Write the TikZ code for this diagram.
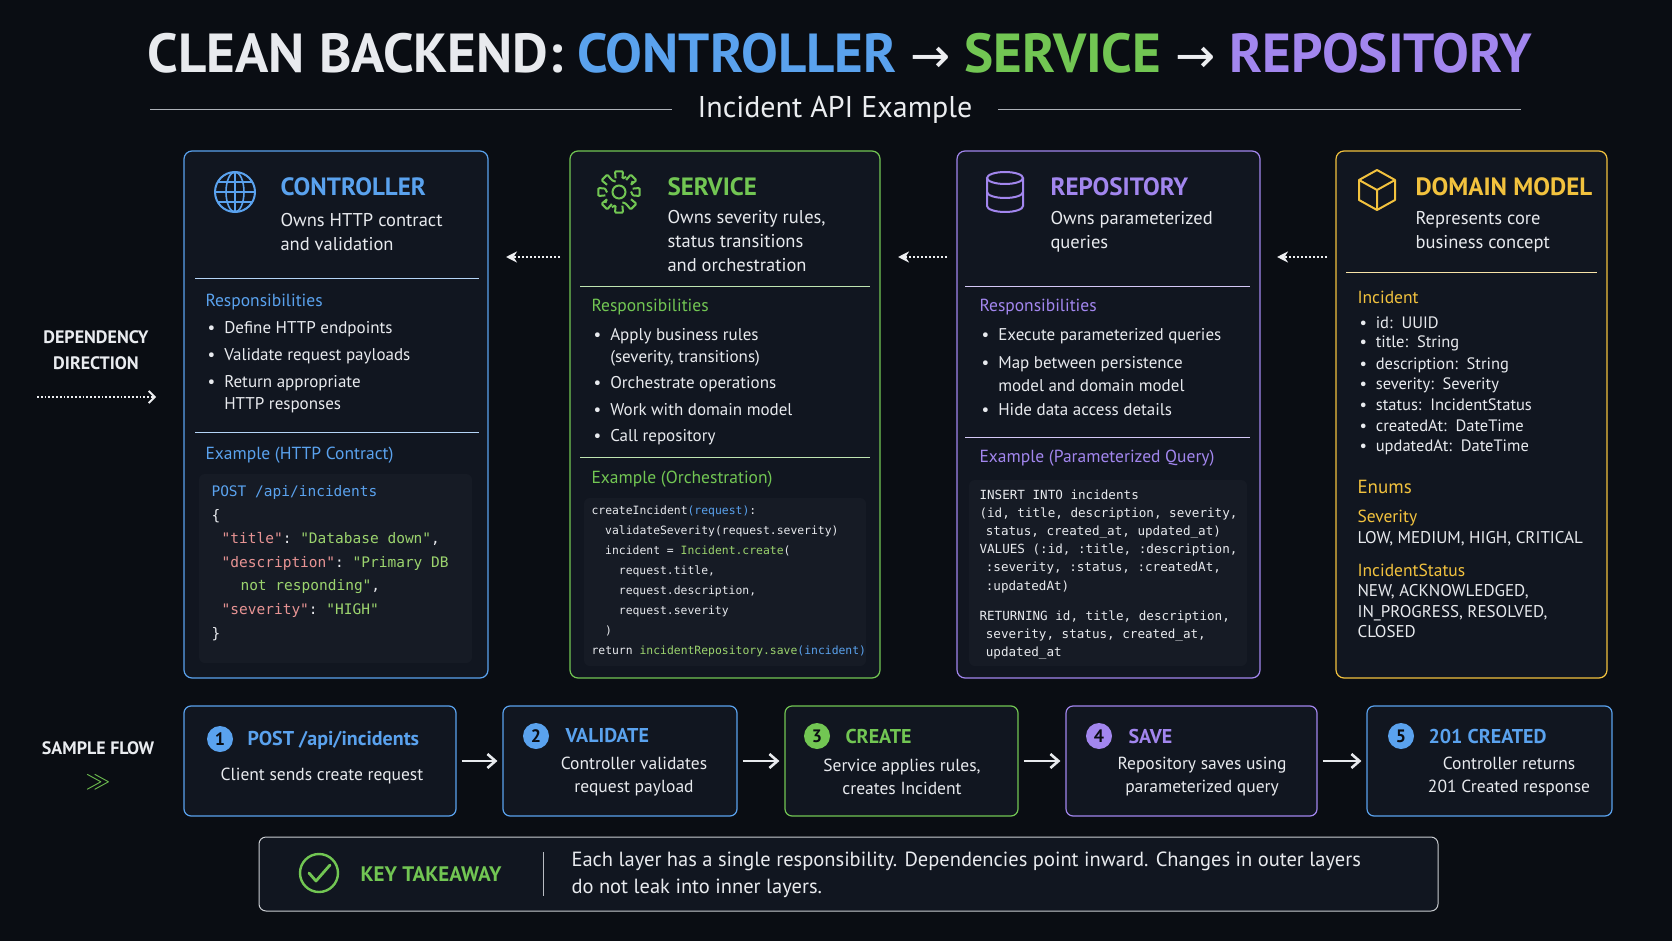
\documentclass[tikz,border=0pt]{standalone}
\usepackage{fontspec}
\setmainfont{PT Sans}
\setmonofont{DejaVu Sans Mono}
\newfontfamily\arrowfont{DejaVu Sans}
\usepackage{tikz}
\definecolor{bgdark}{HTML}{0A0D13}
\definecolor{cardbg}{HTML}{111620}
\definecolor{codebg}{HTML}{161B25}
\definecolor{cblue}{HTML}{5AA2EE}
\definecolor{cgreen}{HTML}{72C653}
\definecolor{cpurple}{HTML}{A286EE}
\definecolor{cgold}{HTML}{F2C23E}
\definecolor{ctext}{HTML}{E8EAEE}
\definecolor{cgray}{HTML}{8A8F99}
\definecolor{ckey}{HTML}{E89494}
\definecolor{cstr}{HTML}{9CD46E}
\usetikzlibrary{arrows.meta,positioning,calc}
\newcommand{\titlearrow}{\textcolor{ctext!80}{{\arrowfont\fontsize{48}{48}\selectfont\mdseries →}}}

\begin{document}
\begin{tikzpicture}[x=1pt,y=-1pt,
    card/.style={draw=#1, line width=1.2pt, fill=cardbg, rounded corners=8pt, inner sep=0pt},
    codebox/.style={fill=codebg, rounded corners=6pt, inner sep=0pt},
    cardtitle/.style={anchor=west, font=\fontsize{25}{28}\selectfont\bfseries, text=#1},
    desc/.style={anchor=west, align=left, font=\fontsize{18.5}{24}\selectfont, text=ctext},
    sect/.style={anchor=west, font=\fontsize{17.5}{20}\selectfont, text=#1},
    item/.style={anchor=west, font=\fontsize{17}{20}\selectfont, text=ctext},
    code/.style={anchor=north west, align=left, text=ctext},
    flowbox/.style={draw=#1, line width=1.2pt, fill=cardbg, rounded corners=7pt,
        minimum height=110, inner sep=0pt},
    num/.style={circle, fill=#1, text=bgdark, inner sep=0pt, minimum size=26,
        font=\fontsize{18}{18}\selectfont\bfseries},
    flowtitle/.style={anchor=west, font=\fontsize{20}{22}\selectfont\bfseries, text=#1},
    flowdesc/.style={align=center, font=\fontsize{17.5}{23}\selectfont, text=ctext},
    dep/.style={-{Stealth[length=11pt,width=11pt]}, dotted, line width=2pt, draw=ctext!80},
    flowarrow/.style={-{Straight Barb[length=8pt,width=14pt]}, line width=2.6pt, draw=ctext},
    divider/.style={line width=0.9pt, draw=#1!45}]

\path[fill=bgdark] (0,0) rectangle (1672,941);

% Title
\node[font=\fontsize{55}{60}\selectfont\bfseries, text=ctext] (title) at (840,53)
  {CLEAN BACKEND: \textcolor{cblue}{CONTROLLER} \titlearrow{}
   \textcolor{cgreen}{SERVICE} \titlearrow{} \textcolor{cpurple}{REPOSITORY}};
\node[font=\fontsize{30}{32}\selectfont, text=ctext!85] (subtitle) at (835,110) {Incident API Example};
\draw[cgray!70, line width=1pt] ([xshift=22pt]subtitle.east) -- (1521,110);
\draw[cgray!70, line width=1pt] (150,110) -- ([xshift=-22pt]subtitle.west);

% Cards
\node[card=cblue, minimum width=304, minimum height=527] (ctrl) at (336,414.5) {};
\node[card=cgreen, minimum width=310, minimum height=527] (srv) at (725,414.5) {};
\node[card=cpurple, minimum width=303, minimum height=527] (repo) at (1108.5,414.5) {};
\node[card=cgold, minimum width=271, minimum height=527] (dom) at (1471.5,414.5) {};

% Controller
\draw[cblue, line width=2pt] (235,192) circle (20);
\draw[cblue, line width=1.6pt] (235,192) ellipse (9 and 20);
\draw[cblue, line width=1.6pt] (215,192) -- (255,192) (218,182) -- (252,182) (218,202) -- (252,202) (235,172) -- (235,212);
\node[cardtitle=cblue] (ctrlT) at (277,187) {CONTROLLER};
\node[desc] (ctrlD) at (277,232) {Owns HTTP contract\\and validation};
\draw[divider=cblue] (195,278) -- (479,278);
\node[sect=cblue] (ctrlR) at (202,302) {Responsibilities};
\foreach \y/\t [count=\i] in {329/{\textbullet\ \ Define HTTP endpoints},
    356/{\textbullet\ \ Validate request payloads},
    383/{\textbullet\ \ Return appropriate},
    405/{\phantom{\textbullet\ \ }HTTP responses}}
  \node[item] (ci\i) at (204,\y) {\t};
\draw[divider=cblue] (195,432) -- (479,432);
\node[sect=cblue] (ctrlE) at (202,455) {Example (HTTP Contract)};
\node[codebox, minimum width=273, minimum height=189] (ctrlC) at (335.5,568.5) {};
\node[code, font=\fontsize{14.5}{23.6}\ttfamily] (ctrlX) at (208,482) {%
  \textcolor{cblue}{POST /api/incidents}\\
  \{\\
  \hspace*{0.7em}\textcolor{ckey}{"title"}: \textcolor{cstr}{"Database down"},\\
  \hspace*{0.7em}\textcolor{ckey}{"description"}: \textcolor{cstr}{"Primary DB}\\
  \hspace*{2em}\textcolor{cstr}{not responding"},\\
  \hspace*{0.7em}\textcolor{ckey}{"severity"}: \textcolor{cstr}{"HIGH"}\\
  \}};

% Service
\draw[cgreen, line width=2pt] (619,192) circle (6.5);
\foreach \a in {0,45,...,315}
  \draw[cgreen, line width=2pt, rounded corners=1pt]
    ($(619,192)+(\a-14:14)$) -- ($(619,192)+(\a-11:21)$) -- ($(619,192)+(\a+11:21)$) -- ($(619,192)+(\a+14:14)$)
    arc[start angle=-(\a+14), end angle=-(\a+31), radius=14];
\node[cardtitle=cgreen] (srvT) at (664,187) {SERVICE};
\node[desc] (srvD) at (664,241) {Owns severity rules,\\status transitions\\and orchestration};
\draw[divider=cgreen] (580,286) -- (870,286);
\node[sect=cgreen] (srvR) at (588,307) {Responsibilities};
\foreach \y/\t [count=\i] in {336/{\textbullet\ \ Apply business rules},
    358/{\phantom{\textbullet\ \ }(severity, transitions)},
    384/{\textbullet\ \ Orchestrate operations},
    410/{\textbullet\ \ Work with domain model},
    437/{\textbullet\ \ Call repository}}
  \node[item] (si\i) at (590,\y) {\t};
\draw[divider=cgreen] (580,457) -- (870,457);
\node[sect=cgreen] (srvE) at (588,479) {Example (Orchestration)};
\node[codebox, minimum width=282, minimum height=168] (srvC) at (725,582) {};
\node[code, font=\fontsize{11.4}{20.1}\ttfamily] (srvX) at (588,502) {%
  createIncident\textcolor{cblue}{(request)}:\\
  \hspace*{1.2em}validateSeverity(request.severity)\\
  \hspace*{1.2em}incident = \textcolor{cstr}{Incident.create}(\\
  \hspace*{2.4em}request.title,\\
  \hspace*{2.4em}request.description,\\
  \hspace*{2.4em}request.severity\\
  \hspace*{1.2em})\\
  return \textcolor{cstr}{incidentRepository.save}\textcolor{cblue}{(incident)}};

% Repository
\begin{scope}[cpurple, line width=2pt]
  \draw (1005,178) ellipse (18 and 6);
  \draw (987,178) -- (987,206) arc[start angle=180, end angle=0, x radius=18, y radius=6] -- (1023,178);
  \draw (987,192) arc[start angle=180, end angle=0, x radius=18, y radius=6];
\end{scope}
\node[cardtitle=cpurple] (repoT) at (1047,187) {REPOSITORY};
\node[desc] (repoD) at (1047,232) {Owns parameterized\\queries};
\draw[divider=cpurple] (965,286) -- (1250,286);
\node[sect=cpurple] (repoR) at (976,307) {Responsibilities};
\foreach \y/\t [count=\i] in {336/{\textbullet\ \ Execute parameterized queries},
    364/{\textbullet\ \ Map between persistence},
    386/{\phantom{\textbullet\ \ }model and domain model},
    410/{\textbullet\ \ Hide data access details}}
  \node[item] (ri\i) at (978,\y) {\t};
\draw[divider=cpurple] (965,437) -- (1250,437);
\node[sect=cpurple] (repoE) at (976,458) {Example (Parameterized Query)};
\node[codebox, minimum width=278, minimum height=186] (repoC) at (1108,573) {};
\node[code, font=\fontsize{12.6}{18.2}\ttfamily] (repoX) at (976,486) {%
  INSERT INTO incidents\\
  (id, title, description, severity,\\
  \hspace*{0.5em}status, created\_at, updated\_at)\\
  VALUES (:id, :title, :description,\\
  \hspace*{0.5em}:severity, :status, :createdAt,\\
  \hspace*{0.5em}:updatedAt)\\[12pt]
  RETURNING id, title, description,\\
  \hspace*{0.5em}severity, status, created\_at,\\
  \hspace*{0.5em}updated\_at};

% Domain model
\begin{scope}[cgold, line width=2pt, line join=round]
  \draw (1377,170) -- (1395,180) -- (1395,200) -- (1377,210) -- (1359,200) -- (1359,180) -- cycle;
  \draw (1359,180) -- (1377,190) -- (1395,180) (1377,190) -- (1377,210);
\end{scope}
\node[cardtitle=cgold] (domT) at (1412,187) {DOMAIN MODEL};
\node[desc] (domD) at (1412,232) {Represents core\\business concept};
\draw[divider=cgold] (1346,272) -- (1597,272);
\node[sect=cgold] (domI) at (1354,297) {Incident};
\foreach \y/\t [count=\i] in {323/{id:\ \ UUID}, 343/{title:\ \ String},
    365/{description:\ \ String}, 385/{severity:\ \ Severity},
    405/{status:\ \ IncidentStatus}, 426/{createdAt:\ \ DateTime},
    447/{updatedAt:\ \ DateTime}}
  \node[item, font=\fontsize{16.5}{20}\selectfont] (di\i) at (1356,\y) {\textbullet\ \ \t};
\node[sect=cgold, font=\fontsize{19}{22}\selectfont] (domEn) at (1354,487) {Enums};
\node[sect=cgold] (domS) at (1354,518) {Severity};
\node[item] (domSv) at (1354,539) {LOW, MEDIUM, HIGH, CRITICAL};
\node[sect=cgold] (domIS) at (1354,570) {IncidentStatus};
\node[item, anchor=north west, align=left, font=\fontsize{17}{20.6}\selectfont] (domISv) at (1354,581)
  {NEW, ACKNOWLEDGED,\\IN\_PROGRESS, RESOLVED,\\CLOSED};

% Dependency arrows
\coordinate (dA) at (1327,257); \coordinate (dB) at (1277,257);
\coordinate (dC) at (947,257);  \coordinate (dD) at (898,257);
\coordinate (dE) at (560,257);  \coordinate (dF) at (506,257);
\draw[dep] (dA) -- (dB);
\draw[dep] (dC) -- (dD);
\draw[dep] (dE) -- (dF);

% Dependency direction
\node[align=center, font=\fontsize{18}{26}\selectfont\bfseries, text=ctext!90] (depL) at (96,350) {DEPENDENCY\\DIRECTION};
\coordinate (depS) at (37,397); \coordinate (depE) at (156,397);
\draw[dep, line width=1.8pt, -{Straight Barb[length=6pt,width=12pt]}] (depS) -- (depE);

% Sample flow
\node[font=\fontsize{18}{20}\selectfont\bfseries, text=ctext!90] (sflow) at (98,748) {SAMPLE FLOW};
\node[text=cgreen, font=\fontsize{26}{26}\selectfont\bfseries] (sflowA) at (98,782) {$\gg$};

\node[flowbox=cblue, minimum width=272] (f1) at (320,761) {};
\node[flowbox=cblue, minimum width=234] (f2) at (620,761) {};
\node[flowbox=cgreen, minimum width=233] (f3) at (901.5,761) {};
\node[flowbox=cpurple, minimum width=251] (f4) at (1191.5,761) {};
\node[flowbox=cblue, minimum width=245] (f5) at (1489.5,761) {};

\node[num=cblue] (n1) at (220,739) {1};
\node[flowtitle=cblue] (t1) at (244,740) {POST /api/incidents};
\node[flowdesc] (d1) at (322,776) {Client sends create request};
\node[num=cblue] (n2) at (536,736) {2};
\node[flowtitle=cblue] (t2) at (562,736) {VALIDATE};
\node[flowdesc] (d2) at (634,777) {Controller validates\\request payload};
\node[num=cgreen] (n3) at (817,736) {3};
\node[flowtitle=cgreen] (t3) at (842,736) {CREATE};
\node[flowdesc] (d3) at (902,777) {Service applies rules,\\creates Incident};
\node[num=cpurple] (n4) at (1099,736) {4};
\node[flowtitle=cpurple] (t4) at (1125,736) {SAVE};
\node[flowdesc] (d4) at (1202,777) {Repository saves using\\parameterized query};
\node[num=cblue] (n5) at (1401,736) {5};
\node[flowtitle=cblue] (t5) at (1425,736) {201 CREATED};
\node[flowdesc] (d5) at (1509,777) {Controller returns\\201 Created response};

\draw[flowarrow, shorten <=5pt, shorten >=5pt] (f1) -- (f2);
\draw[flowarrow, shorten <=5pt, shorten >=5pt] (f2) -- (f3);
\draw[flowarrow, shorten <=5pt, shorten >=5pt] (f3) -- (f4);
\draw[flowarrow, shorten <=5pt, shorten >=5pt] (f4) -- (f5);

% Key takeaway
\node[draw=cgray!45, line width=1pt, fill=cardbg, rounded corners=7pt, minimum width=1179, minimum height=74] (take) at (848.5,874) {};
\draw[cgreen, line width=2.4pt] (319,873) circle (19);
\draw[cgreen, line width=2.8pt, line cap=round, line join=round] (309,873) -- (316,881) -- (330,865);
\node[anchor=west, font=\fontsize{21}{24}\selectfont\bfseries, text=cgreen] (takeT) at (357,874) {KEY TAKEAWAY};
\draw[cgray!60, line width=1pt] (543,852) -- (543,896);
\node[anchor=west, align=left, font=\fontsize{20.5}{26.5}\selectfont, text=ctext] (takeD) at (568,875)
  {Each layer has a single responsibility. Dependencies point inward. Changes in outer layers\\do not leak into inner layers.};
\end{tikzpicture}
\end{document}
